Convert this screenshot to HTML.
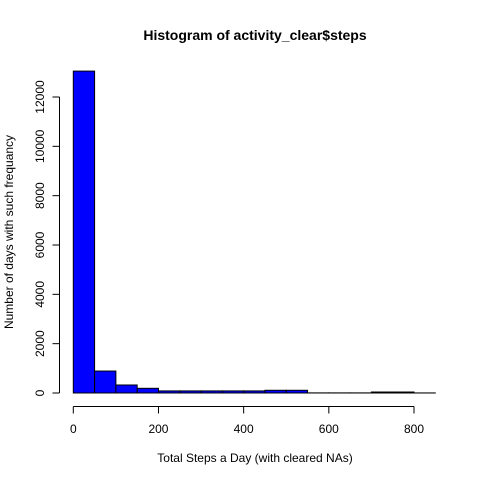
<!DOCTYPE html>
<html><head><meta charset="utf-8"><style>body{margin:0;background:#fff}svg{display:block}</style></head>
<body>
<svg id="chart" width="480" height="480" xmlns="http://www.w3.org/2000/svg" font-family="Liberation Sans, Arial, sans-serif">
<rect width="480" height="480" fill="#fff"/>
<text x="255" y="40" text-anchor="middle" font-weight="bold" font-size="14">Histogram of activity_clear$steps</text>
<text x="255" y="462" text-anchor="middle" font-size="12">Total Steps a Day (with cleared NAs)</text>
<text transform="translate(13,232) rotate(-90)" text-anchor="middle" font-size="12">Number of days with such frequancy</text>
<g id="bars"></g><g id="xaxis"></g><g id="yaxis"></g>
</svg>
<script>
const breaks = [0,50,100,150,200,250,300,350,400,450,500,550,600,650,700,750,800,850];
const counts = [13050,890,325,190,85,85,85,85,85,110,110,5,5,5,40,40,3];
const xTicks = [0,200,400,600,800];
const yTicks = [0,2000,4000,6000,8000,10000,12000];
const NS='http://www.w3.org/2000/svg';
const sx = v => 73.3 + v*(414-73.3)/800;
const sy = v => 393 - v*296/12000;
function mk(t,a,p){const e=document.createElementNS(NS,t);for(const k in a)e.setAttribute(k,a[k]);p.appendChild(e);return e;}
const bars=document.getElementById('bars');
for(let i=0;i<counts.length;i++){
  const x0=sx(breaks[i]),x1=sx(breaks[i+1]),y=sy(counts[i]);
  const r=mk('rect',{x:x0,y:y,width:x1-x0,height:sy(0)-y,fill:'#0000ff',stroke:'#000','stroke-width':1},bars);
  
  
}
const xa=document.getElementById('xaxis');


mk('line',{x1:sx(xTicks[0]),x2:sx(xTicks[xTicks.length-1]),y1:406.5,y2:406.5,stroke:'#000'},xa);
xTicks.forEach(v=>{
  mk('line',{x1:sx(v),x2:sx(v),y1:406.5,y2:413.5,stroke:'#000'},xa);
  const t=mk('text',{x:sx(v),y:433,'text-anchor':'middle','font-size':12},xa);t.textContent=v;
  
  
});
const ya=document.getElementById('yaxis');


mk('line',{x1:59.5,x2:59.5,y1:sy(yTicks[0]),y2:sy(yTicks[yTicks.length-1]),stroke:'#000'},ya);
yTicks.forEach(v=>{
  mk('line',{x1:52.5,x2:59.5,y1:sy(v),y2:sy(v),stroke:'#000'},ya);
  const t=mk('text',{transform:`translate(44,${sy(v)}) rotate(-90)`,'text-anchor':'middle','font-size':12},ya);t.textContent=v;
  
  
});
</script>
</body></html>
